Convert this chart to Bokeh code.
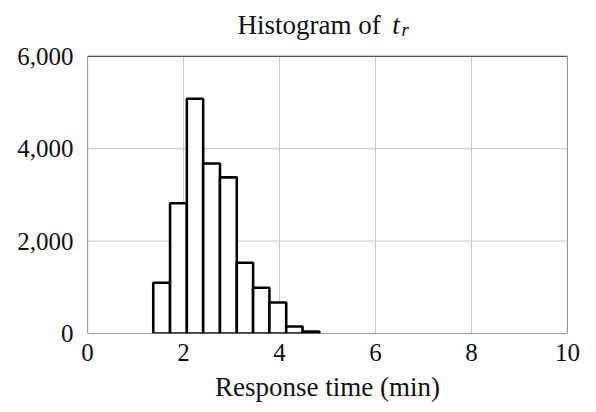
from bokeh.plotting import figure
from bokeh.models import Range1d, FixedTicker, NumeralTickFormatter, Label
from bokeh.embed import file_html
from bokeh.resources import INLINE

# Data
bin_edges = [1.37, 1.72, 2.07, 2.41, 2.76, 3.11, 3.45, 3.79, 4.14, 4.48, 4.83]
counts = [1100, 2820, 5080, 3680, 3380, 1530, 990, 670, 150, 40]
x_ticks = [0, 2, 4, 6, 8, 10]
y_ticks = [0, 2000, 4000, 6000]

FONT = "Liberation Serif"
FS_TICK = "25px"
FS_LAB = "27px"
TXT = "#111111"

# frame extended upward so the title (drawn as labels) lives inside the canvas frame
p = figure(width=580, height=404, output_backend="svg", toolbar_location=None,
           x_range=Range1d(0, 10), y_range=Range1d(0, 7100),
           min_border_left=87, min_border_right=13, min_border_top=5, min_border_bottom=70)
p.outline_line_color = None
p.xgrid.grid_line_color = None
p.ygrid.grid_line_color = None

# grid lines at the tick positions, limited to the plot box
p.segment(x0=x_ticks, x1=x_ticks, y0=[y_ticks[0]] * len(x_ticks), y1=[y_ticks[-1]] * len(x_ticks),
          line_color="#c8c8c8", line_width=1)
p.segment(x0=[x_ticks[0]] * len(y_ticks), x1=[x_ticks[-1]] * len(y_ticks), y0=y_ticks, y1=y_ticks,
          line_color="#c8c8c8", line_width=1)

p.quad(left=bin_edges[:-1], right=bin_edges[1:], top=counts, bottom=0,
       fill_color="white", line_color="black", line_width=2.6)

# plot box
p.quad(left=[x_ticks[0]], right=[x_ticks[-1]], bottom=[y_ticks[0]], top=[y_ticks[-1]],
       fill_color=None, line_color="#555555", line_width=1.2)

p.xaxis.ticker = FixedTicker(ticks=x_ticks)
p.yaxis.ticker = FixedTicker(ticks=y_ticks)
p.yaxis.formatter = NumeralTickFormatter(format="0,0")

for ax in (p.xaxis[0], p.yaxis[0]):
    ax.axis_line_color = None
    ax.major_tick_line_color = None
    ax.minor_tick_line_color = None
    ax.major_label_text_font = FONT
    ax.major_label_text_font_size = FS_TICK
    ax.major_label_text_color = TXT
    ax.axis_label_text_font = FONT
    ax.axis_label_text_font_size = FS_LAB
    ax.axis_label_text_font_style = "normal"
    ax.axis_label_text_color = TXT

p.xaxis.axis_label = "Response time (min)"
p.xaxis.major_label_standoff = 4
p.xaxis.axis_label_standoff = 8
p.yaxis.major_label_standoff = 8

# Title: "Histogram of" + italic t with subscript r
p.add_layout(Label(x=3.125, y=6669, text="Histogram of", text_align="left",
                   text_baseline="alphabetic", text_font=FONT, text_font_size=FS_LAB,
                   text_color=TXT))
p.add_layout(Label(x=6.35, y=6669, text="t", text_align="left",
                   text_baseline="alphabetic", text_font=FONT, text_font_size=FS_LAB,
                   text_font_style="italic", text_color=TXT))
p.add_layout(Label(x=6.54, y=6580, text="r", text_align="left",
                   text_baseline="alphabetic", text_font=FONT, text_font_size="19px",
                   text_font_style="italic", text_color=TXT))

open("out.html", "w").write(file_html(p, INLINE))
